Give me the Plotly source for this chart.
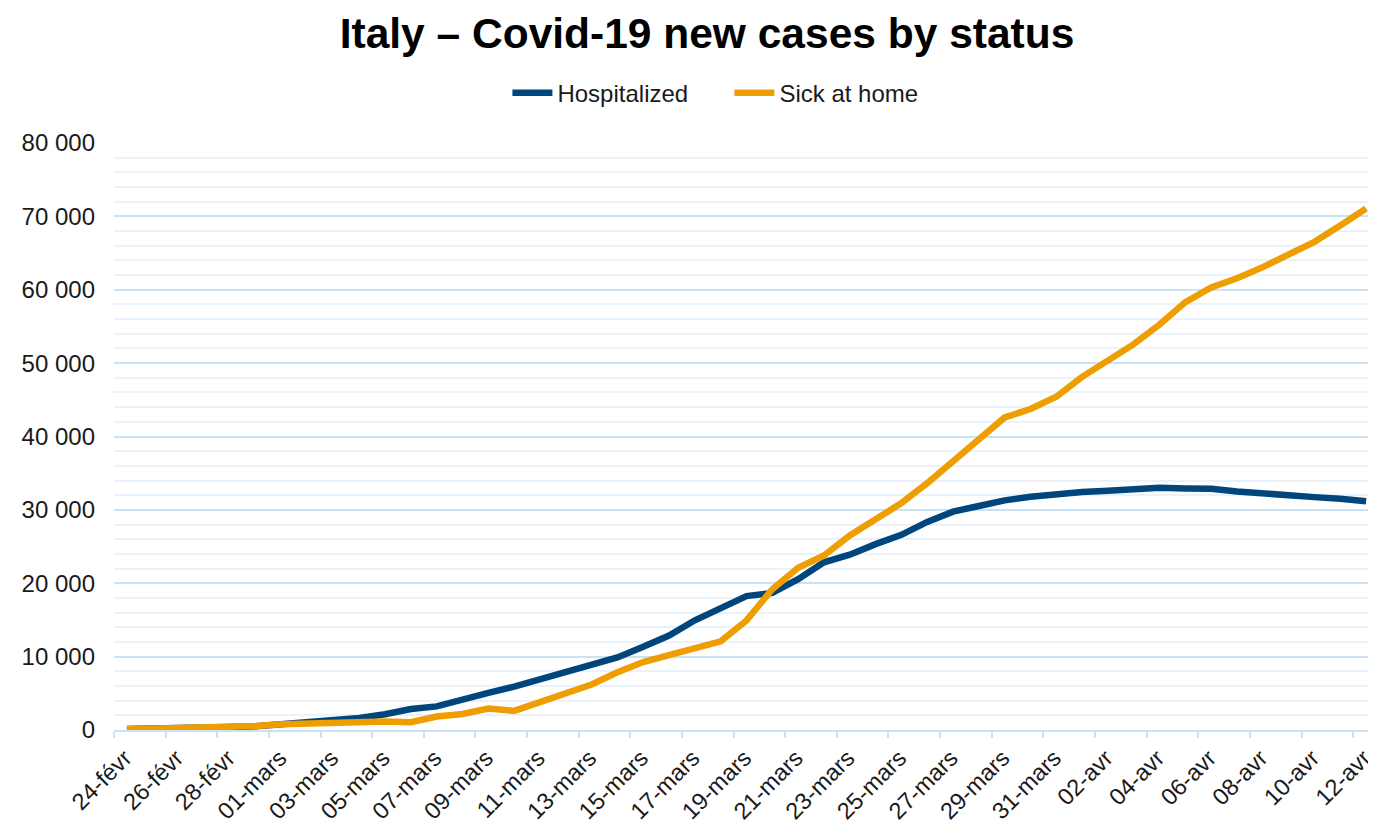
import plotly.graph_objects as go

# data: Italy, Feb 24 - Apr 12 2020
dates = (
    ["24-févr", "25-févr", "26-févr", "27-févr", "28-févr", "29-févr"]
    + [f"{d:02d}-mars" for d in range(1, 32)]
    + [f"{d:02d}-avr" for d in range(1, 13)]
)
hospitalized = [
    127, 150, 164, 304, 409, 506, 779, 908, 1263, 1641, 2141, 2856, 3218,
    4207, 5049, 5915, 6866, 7803, 8754, 9890, 11335, 12876, 14954, 16620,
    18255, 18675, 20565, 22855, 23896, 25333, 26601, 28365, 29761, 30532,
    31292, 31776, 32215, 32438, 32593, 32809, 33004, 32926, 32874, 32510,
    32178, 32004, 31739, 31525, 31190,
]
sick_at_home = [
    94, 162, 221, 284, 412, 543, 798, 927, 1000, 1065, 1155, 1060, 1843,
    2180, 2936, 2599, 3724, 5036, 6201, 7860, 9268, 10197, 11108, 12090,
    14935, 19185, 22116, 23783, 26522, 28697, 30920, 33648, 36653, 39533,
    42588, 43752, 45420, 48134, 50456, 52579, 55270, 58320, 60313, 61557,
    63084, 64873, 66534, 68744, 71063,
]
y_ticks = [0, 10000, 20000, 30000, 40000, 50000, 60000, 70000, 80000]

FONT = "Liberation Sans, Arial, sans-serif"
BLUE = "#00467d"
ORANGE = "#ee9e00"
GRID = "#c9e2f6"
GRID_MINOR = "#eaf3fb"

idx = list(range(len(dates)))

fig = go.Figure()
fig.add_trace(go.Scatter(
    x=idx, y=hospitalized, name="Hospitalized", mode="lines",
    line=dict(color=BLUE, width=6.5),
))
fig.add_trace(go.Scatter(
    x=idx, y=sick_at_home, name="Sick at home", mode="lines",
    line=dict(color=ORANGE, width=6.5),
))

fig.update_xaxes(
    range=[-0.5, len(dates) - 0.5], automargin=False,
    tickmode="array", tickvals=idx[::2], ticktext=dates[::2],
    tickangle=-45, ticks="", ticklabelshift=-2, ticklabelstandoff=3,
    tickfont=dict(family=FONT, size=23.5, color="#1a1a1a"),
    showgrid=False, zeroline=False,
    showline=True, linecolor=GRID, linewidth=2,
    minor=dict(ticks="outside", tick0=-0.5, dtick=2, ticklen=6,
               tickcolor=GRID, tickwidth=2, showgrid=False),
)
fig.update_yaxes(
    range=[0, 80000], automargin=False, tickmode="array", tickvals=y_ticks,
    tickformat=",d", ticks="", ticklabelstandoff=18,
    tickfont=dict(family=FONT, size=24, color="#1a1a1a"),
    showgrid=True, gridcolor=GRID, gridwidth=2, zeroline=False,
    minor=dict(dtick=2000, tick0=0, showgrid=True, gridcolor=GRID_MINOR, gridwidth=2),
)

# the page adds an 8px body margin, so the margins are offset by 8px
fig.update_layout(
    width=1376, height=825,
    margin=dict(l=106, r=5, t=135, b=103),
    separators=", ",
    plot_bgcolor="white", paper_bgcolor="white",
    title=dict(
        text="<b>Italy – Covid-19 new cases by status</b>",
        x=0.508, xanchor="center", y=0.969, yanchor="middle",
        font=dict(family=FONT, size=42.5, color="#000000"),
    ),
    legend=dict(
        orientation="h", x=0.4865, xanchor="center", y=1.085, yanchor="middle",
        font=dict(family=FONT, size=24, color="#1a1a1a"),
        itemwidth=40, entrywidth=167, tracegroupgap=0,
    ),
    showlegend=True,
)

fig.write_html("out.html")
